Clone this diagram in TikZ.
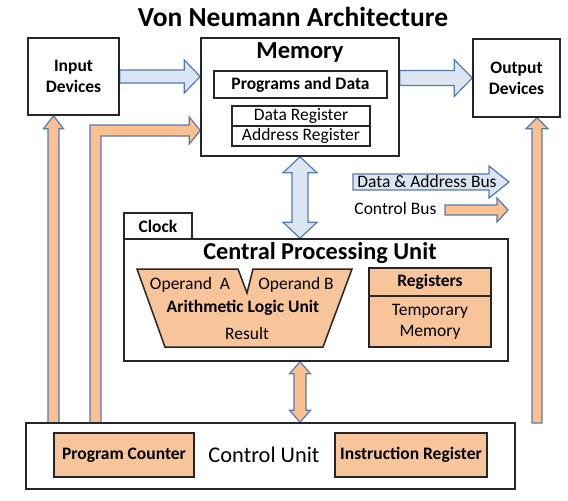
\documentclass[tikz,border=0pt]{standalone}
\usepackage{fontspec}
\setmainfont{Carlito}
\usetikzlibrary{calc,backgrounds}

\definecolor{busblue}{HTML}{DCE6F2}
\definecolor{busedge}{HTML}{557AB3}
\definecolor{ctrlorange}{HTML}{FAC090}
\definecolor{unitorange}{HTML}{F8C59A}

\tikzset{
  unit/.style={draw=black!85, line width=1.5pt, inner sep=0pt},
  part/.style={unit, fill=unitorange},
  databus/.style={draw=busedge, fill=busblue, line width=1.2pt},
  ctrlbus/.style={draw=busedge, fill=ctrlorange, line width=1.2pt},
  txt/.style={font=\fontsize{17.5}{21}\selectfont},
  btxt/.style={font=\fontsize{17.5}{21}\selectfont\bfseries},
}

% block arrow: style, from, to, half shaft, half head, head length
\newcommand{\busarrow}[6]{%
  \draw[#1] let \p1=(#2), \p2=(#3),
      \n1={atan2(\y2-\y1,\x2-\x1)}, \n2={veclen(\x2-\x1,\y2-\y1)} in
    [shift={(\p1)}, rotate=\n1]
    (0pt,#4pt) -- ({\n2-#6pt},#4pt) -- ({\n2-#6pt},#5pt) -- ({\n2+0pt},0pt)
    -- ({\n2-#6pt},-#5pt) -- ({\n2-#6pt},-#4pt) -- (0pt,-#4pt) -- cycle;
}
% same with a head at both ends
\newcommand{\dbusarrow}[6]{%
  \draw[#1] let \p1=(#2), \p2=(#3),
      \n1={atan2(\y2-\y1,\x2-\x1)}, \n2={veclen(\x2-\x1,\y2-\y1)} in
    [shift={(\p1)}, rotate=\n1]
    (0pt,0pt) -- (#6pt,#5pt) -- (#6pt,#4pt) -- ({\n2-#6pt},#4pt) -- ({\n2-#6pt},#5pt)
    -- ({\n2+0pt},0pt) -- ({\n2-#6pt},-#5pt) -- ({\n2-#6pt},-#4pt) -- (#6pt,-#4pt)
    -- (#6pt,-#5pt) -- cycle;
}

\begin{document}
\begin{tikzpicture}[x=1pt,y=-1pt]
\useasboundingbox (0,0) rectangle (568,501);

% Title
\node[font=\fontsize{27.5}{31}\selectfont\bfseries] (title) at (293,17) {Von Neumann Architecture};

% Devices and memory
\node[unit, minimum width=91pt, minimum height=77pt, align=center, btxt] (inp) at (73.5,76.5) {Input\\Devices};
\node[unit, minimum width=87pt, minimum height=78pt, align=center, btxt] (out) at (516.5,78) {Output\\Devices};
\node[unit, minimum width=198pt, minimum height=118pt] (mem) at (300,97) {};
\node[font=\fontsize{24.5}{28}\selectfont\bfseries] (memtitle) at (300,52) {Memory};
\node[unit, minimum width=173pt, minimum height=27pt, btxt] (prog) at (300.5,84.5) {Programs and Data};
\node[unit, line width=1.2pt, minimum width=138pt, minimum height=20pt, txt] (dreg) at (301,116) {Data Register};
\node[unit, line width=1.2pt, minimum width=138pt, minimum height=20pt, txt] (areg) at (301,136) {Address Register};

% Legend
\coordinate (dbstart) at (353,182);
\coordinate (dbend) at (509,182);
\coordinate (cbstart) at (445,210);
\coordinate (cbend) at (508,210);
\busarrow{databus}{dbstart}{dbend}{8}{16}{20}
\node[txt] (dblabel) at (427,181) {Data \& Address Bus};
\node[txt, anchor=east] (cblabel) at (440,208) {Control Bus};
\busarrow{ctrlbus}{cbstart}{cbend}{5}{12}{11}

% CPU
\node[unit, minimum width=68pt, minimum height=26pt, btxt] (clock) at (158,226) {Clock};
\node[unit, minimum width=384pt, minimum height=122pt] (cpu) at (316,300) {};
\node[font=\fontsize{24.3}{28}\selectfont\bfseries] (cputitle) at (320,253) {Central Processing Unit};
\draw[part] (137,269) -- (238,269) -- (247,293) -- (253,269) -- (352,269)
  -- (323,347) -- (165,347) -- cycle; % ALU
\node[txt] (opa) at (190,285) {Operand~~A};
\node[txt] (opb) at (296,285) {Operand B};
\node[btxt] (alu) at (243,308) {Arithmetic Logic Unit};
\node[txt] (result) at (247,333) {Result};
\node[part, minimum width=122pt, minimum height=28pt, btxt] (reghead) at (430,282) {Registers};
\node[part, minimum width=122pt, minimum height=51pt, align=center, txt] (regbody) at (430,321.5) {Temporary\\Memory};

% Control unit
\node[unit, minimum width=489pt, minimum height=66pt] (cu) at (270.5,456) {};
\node[font=\fontsize{22.4}{26}\selectfont] (cutitle) at (264,455) {Control Unit};
\node[part, minimum width=140pt, minimum height=44pt, btxt] (pc) at (124,455) {Program Counter};
\node[part, minimum width=152pt, minimum height=44pt, btxt] (ir) at (411,455) {Instruction Register};

% Buses
\coordinate (inlink) at (53.5,423);
\coordinate (outlink) at (537,423);
\coordinate (pclink) at (95.5,423);
\coordinate (pcbend) at (95.5,130.5);
\begin{scope}[on background layer]
  \busarrow{databus}{inp.east}{inp.east -| mem.west}{6.5}{16.5}{16}
  \busarrow{databus}{mem.east |- out.west}{out.west}{7.5}{18.5}{18}
  \dbusarrow{databus}{mem.south}{mem.south |- cpu.north}{8}{17}{16}
  \dbusarrow{ctrlbus}{mem.south |- cpu.south}{mem.south |- cu.north}{6}{10.5}{12}
  \busarrow{ctrlbus}{inlink}{inlink |- inp.south}{5.5}{10}{13}
  \busarrow{ctrlbus}{outlink}{outlink |- out.south}{5}{11}{11}
  \draw[ctrlbus] let \p1=(pclink), \p2=(pcbend), \p3=(pcbend -| mem.west) in
    ({\x1-5.5pt},\y1) -- ({\x2-5.5pt},{\y2+5.5pt}) -- ({\x3-11pt},{\y2+5.5pt})
    -- ({\x3-11pt},{\y2+13.5pt}) -- (\p3) -- ({\x3-11pt},{\y2-13.5pt})
    -- ({\x3-11pt},{\y2-5.5pt}) -- ({\x2+5.5pt},{\y2-5.5pt}) -- ({\x1+5.5pt},\y1) -- cycle;
\end{scope}

\end{tikzpicture}
\end{document}
